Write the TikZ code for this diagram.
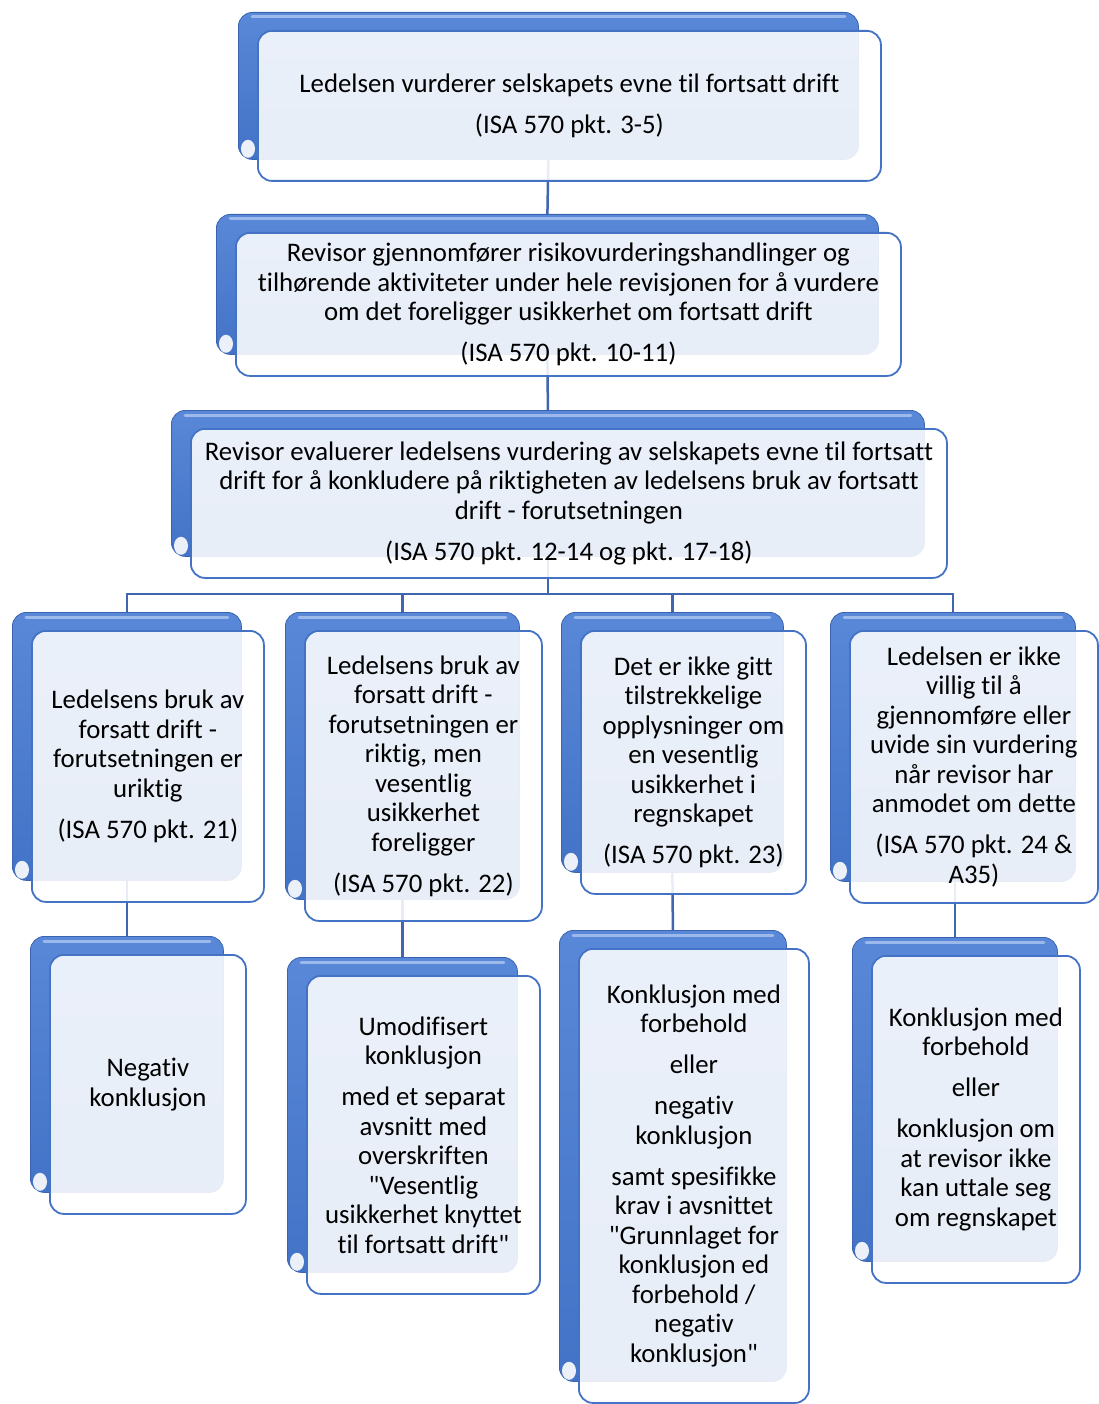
\documentclass[tikz,border=0pt]{standalone}
\usepackage{fontspec}
\setmainfont{Carlito}[Ligatures={CommonOff,TeXOff}]
\definecolor{accent}{HTML}{4472C4}
\definecolor{backtop}{HTML}{5A88D8}
\definecolor{backbot}{HTML}{4273C6}
\definecolor{backedge}{HTML}{3A64B2}
\definecolor{gloss}{HTML}{9CB9EC}
\definecolor{linkblue}{HTML}{3F66AE}
\pgfdeclarelayer{links}
\pgfsetlayers{links,main}
\tikzset{
  backcard/.style={rectangle, rounded corners=14pt, top color=backtop, bottom color=backbot,
    draw=backedge, line width=0.8pt, inner sep=0pt, anchor=north west},
  glossline/.style={draw=gloss, line width=3pt, line cap=round},
  cornerglow/.style={fill=white, fill opacity=0.9},
  frontcard/.style={rectangle, rounded corners=14pt, draw=accent, line width=1.8pt,
    fill=white, fill opacity=0.88, inner sep=0pt, anchor=north west},
  cardtext/.style={align=center, font=\fontsize{26.8}{29.5}\selectfont, inner sep=0pt},
  link/.style={draw=linkblue, line width=2.5pt}
}
% \card{name}{x1}{y1}{x2}{y2}{text}: front card corners, back card sits up-left of it
% (y grows downwards in this picture)
\newcommand\card[6]{%
  \node[backcard, minimum width={(#4-#2-3)*1pt}, minimum height={(#5-#3-3)*1pt}]
    (b#1) at (#2-19,#3-18) {};
  \draw[glossline] ([shift={(14,5)}]b#1.north west) -- ([shift={(-14,5)}]b#1.north east);
  \fill[cornerglow] ([shift={(10,-11)}]b#1.south west) ellipse (7 and 9);
  \node[frontcard, minimum width={(#4-#2)*1pt}, minimum height={(#5-#3)*1pt}]
    (f#1) at (#2,#3) {};
  \node[cardtext] (t#1) at (f#1.center) {#6};
}
\newcommand\gap{\\[11.5pt]}
\begin{document}
\begin{tikzpicture}[x=1pt, y=-1pt]
\useasboundingbox (0,0) rectangle (1099,1404);

\card{top}{257}{30}{880}{180}{Ledelsen vurderer selskapets evne til fortsatt drift\gap (ISA 570 pkt. 3-5)}
\card{risk}{235}{232}{900}{375}{Revisor gjennomfører risikovurderingshandlinger og\\ tilhørende aktiviteter under hele revisjonen for å vurdere\\ om det foreligger usikkerhet om fortsatt drift\gap (ISA 570 pkt. 10-11)}
\card{eval}{190}{428}{946}{577}{Revisor evaluerer ledelsens vurdering av selskapets evne til fortsatt\\ drift for å konkludere på riktigheten av ledelsens bruk av fortsatt\\ drift - forutsetningen\gap (ISA 570 pkt. 12-14 og pkt. 17-18)}

\card{a}{31}{630}{263}{901}{Ledelsens bruk av\\ forsatt drift -\\ forutsetningen er\\ uriktig\gap (ISA 570 pkt. 21)}
\card{b}{304}{630}{541}{920}{Ledelsens bruk av\\ forsatt drift -\\ forutsetningen er\\ riktig, men\\ vesentlig\\ usikkerhet\\ foreligger\gap (ISA 570 pkt. 22)}
\card{c}{580}{630}{805}{893}{Det er ikke gitt\\ tilstrekkelige\\ opplysninger om\\ en vesentlig\\ usikkerhet i\\ regnskapet\gap (ISA 570 pkt. 23)}
\card{d}{849}{630}{1097}{902}{Ledelsen er ikke\\ villig til å\\ gjennomføre eller\\ uvide sin vurdering\\ når revisor har\\ anmodet om dette\gap (ISA 570 pkt. 24 \&\\ A35)}

\card{aa}{49}{954}{245}{1213}{Negativ\\ konklusjon}
\card{bb}{306}{975}{539}{1293}{Umodifisert\\ konklusjon\gap med et separat\\ avsnitt med\\ overskriften\\ "Vesentlig\\ usikkerhet knyttet\\ til fortsatt drift"}
\card{cc}{578}{948}{808}{1402}{Konklusjon med\\ forbehold\gap eller\gap negativ\\ konklusjon\gap samt spesifikke\\ krav i avsnittet\\ "Grunnlaget for\\ konklusjon ed\\ forbehold /\\ negativ\\ konklusjon"}
\card{dd}{871}{955}{1079}{1282}{Konklusjon med\\ forbehold\gap eller\gap konklusjon om\\ at revisor ikke\\ kan uttale seg\\ om regnskapet}

\coordinate (bus) at (548,594);
\begin{pgfonlayer}{links}
  \draw[link] (btop.south) -- (brisk.north);
  \draw[link] (brisk.south) -- (beval.north);
  \draw[link] (beval.south) -- (beval.south |- bus);
  \foreach \n in {a,b,c,d} {
    \draw[link] (beval.south |- bus) -| (b\n.north);
  }
  \draw[link] (ba.south) -- (baa.north);
  \draw[link] (bb.south) -- (bbb.north);
  \draw[link] (bc.south) -- (bcc.north);
  \draw[link] (bdd.north) -- (bdd.north |- bd.south);
\end{pgfonlayer}
\end{tikzpicture}
\end{document}
